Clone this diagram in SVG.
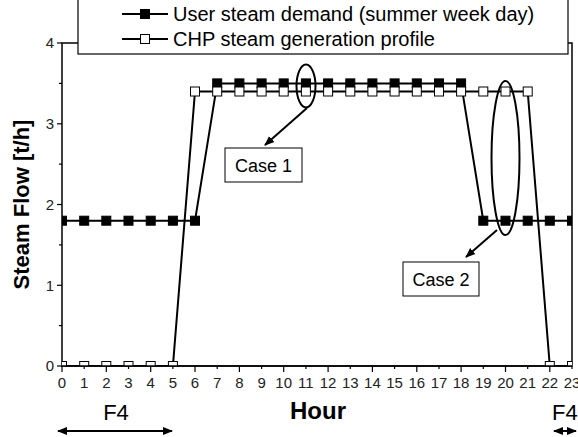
<svg xmlns="http://www.w3.org/2000/svg" xmlns:xlink="http://www.w3.org/1999/xlink" width="578" height="437" viewBox="0 0 578 437">
<style>
.ax{stroke:#000;stroke-width:1.5;fill:none}
.tk{stroke:#000;stroke-width:1.2}
.ser{stroke:#000;stroke-width:2;fill:none}
.lbl{font-family:"Liberation Sans",Arial,sans-serif;font-size:15px;fill:#222}
.big{font-family:"Liberation Sans",Arial,sans-serif;font-size:22px;font-weight:bold;fill:#000}
.hour{font-family:"Liberation Sans",Arial,sans-serif;font-size:24px;font-weight:bold;fill:#000}
.leg{font-family:"Liberation Sans",Arial,sans-serif;font-size:20px;fill:#000}
.f4{font-family:"Liberation Sans",Arial,sans-serif;font-size:22px;fill:#000}
.case{font-family:"Liberation Sans",Arial,sans-serif;font-size:18px;fill:#000}
.box{fill:#fff;stroke:#000;stroke-width:1}
.ell{fill:none;stroke:#000;stroke-width:2}
.arr{stroke:#000;stroke-width:2;fill:none}
</style>
<defs>
<rect id="fs" x="-4.5" y="-4.5" width="9" height="9" fill="#000" stroke="#000" stroke-width="1"/>
<rect id="os" x="-4.5" y="-4.5" width="9" height="9" fill="#fff" stroke="#000" stroke-width="1"/>
<clipPath id="plot"><rect x="62" y="43" width="510" height="323"/></clipPath>
<marker id="ah" viewBox="0 0 10 10" refX="9" refY="5" markerWidth="5" markerHeight="5" orient="auto-start-reverse" markerUnits="strokeWidth">
<path d="M0,1 L10,5 L0,9 Z" fill="#000"/>
</marker>
</defs>
<rect width="578" height="437" fill="#fff"/>

<g id="axes">
<rect class="ax" x="62" y="43" width="510" height="323"/>
<g class="tk">
<line x1="57" y1="366" x2="62" y2="366"/>
<line x1="57" y1="285.3" x2="62" y2="285.3"/>
<line x1="57" y1="204.5" x2="62" y2="204.5"/>
<line x1="57" y1="123.8" x2="62" y2="123.8"/>
<line x1="57" y1="43" x2="62" y2="43"/>
<line x1="59" y1="325.6" x2="62" y2="325.6"/>
<line x1="59" y1="244.9" x2="62" y2="244.9"/>
<line x1="59" y1="164.1" x2="62" y2="164.1"/>
<line x1="59" y1="83.4" x2="62" y2="83.4"/>
</g>
<g class="tk">
<line x1="62" y1="366" x2="62" y2="372"/>
<line x1="84.2" y1="366" x2="84.2" y2="369"/>
<line x1="106.3" y1="366" x2="106.3" y2="372"/>
<line x1="128.5" y1="366" x2="128.5" y2="369"/>
<line x1="150.7" y1="366" x2="150.7" y2="372"/>
<line x1="172.9" y1="366" x2="172.9" y2="369"/>
<line x1="195" y1="366" x2="195" y2="372"/>
<line x1="217.2" y1="366" x2="217.2" y2="369"/>
<line x1="239.4" y1="366" x2="239.4" y2="372"/>
<line x1="261.6" y1="366" x2="261.6" y2="369"/>
<line x1="283.7" y1="366" x2="283.7" y2="372"/>
<line x1="305.9" y1="366" x2="305.9" y2="369"/>
<line x1="328.1" y1="366" x2="328.1" y2="372"/>
<line x1="350.3" y1="366" x2="350.3" y2="369"/>
<line x1="372.4" y1="366" x2="372.4" y2="372"/>
<line x1="394.6" y1="366" x2="394.6" y2="369"/>
<line x1="416.8" y1="366" x2="416.8" y2="372"/>
<line x1="439" y1="366" x2="439" y2="369"/>
<line x1="461.1" y1="366" x2="461.1" y2="372"/>
<line x1="483.3" y1="366" x2="483.3" y2="369"/>
<line x1="505.5" y1="366" x2="505.5" y2="372"/>
<line x1="527.7" y1="366" x2="527.7" y2="369"/>
<line x1="549.8" y1="366" x2="549.8" y2="372"/>
<line x1="572" y1="366" x2="572" y2="369"/>
</g>
<g class="lbl" text-anchor="end">
<text x="54" y="371">0</text>
<text x="54" y="290.5">1</text>
<text x="54" y="209.7">2</text>
<text x="54" y="129">3</text>
<text x="54" y="48.2">4</text>
</g>
<g class="lbl" text-anchor="middle">
<text x="62" y="388">0</text><text x="84.2" y="388">1</text><text x="106.3" y="388">2</text><text x="128.5" y="388">3</text>
<text x="150.7" y="388">4</text><text x="172.9" y="388">5</text><text x="195" y="388">6</text><text x="217.2" y="388">7</text>
<text x="239.4" y="388">8</text><text x="261.6" y="388">9</text><text x="283.7" y="388">10</text><text x="305.9" y="388">11</text>
<text x="328.1" y="388">12</text><text x="350.3" y="388">13</text><text x="372.4" y="388">14</text><text x="394.6" y="388">15</text>
<text x="416.8" y="388">16</text><text x="439" y="388">17</text><text x="461.1" y="388">18</text><text x="483.3" y="388">19</text>
<text x="505.5" y="388">20</text><text x="527.7" y="388">21</text><text x="549.8" y="388">22</text><text x="572" y="388">23</text>
</g>
<text class="hour" x="318" y="419" text-anchor="middle">Hour</text>
<text class="big" transform="translate(29,204.5) rotate(-90)" text-anchor="middle">Steam Flow [t/h]</text>
</g>

<g id="series" clip-path="url(#plot)">
<g id="user-demand">
<polyline class="ser" points="62,220.7 84.2,220.7 106.3,220.7 128.5,220.7 150.7,220.7 172.9,220.7 195,220.7 217.2,83.4 239.4,83.4 261.6,83.4 283.7,83.4 305.9,83.4 328.1,83.4 350.3,83.4 372.4,83.4 394.6,83.4 416.8,83.4 439,83.4 461.1,83.4 483.3,220.7 505.5,220.7 527.7,220.7 549.8,220.7 572,220.7"/>
<use xlink:href="#fs" x="62" y="220.7"/><use xlink:href="#fs" x="84.2" y="220.7"/><use xlink:href="#fs" x="106.3" y="220.7"/><use xlink:href="#fs" x="128.5" y="220.7"/>
<use xlink:href="#fs" x="150.7" y="220.7"/><use xlink:href="#fs" x="172.9" y="220.7"/><use xlink:href="#fs" x="195" y="220.7"/>
<use xlink:href="#fs" x="217.2" y="83.4"/><use xlink:href="#fs" x="239.4" y="83.4"/><use xlink:href="#fs" x="261.6" y="83.4"/><use xlink:href="#fs" x="283.7" y="83.4"/>
<use xlink:href="#fs" x="305.9" y="83.4"/><use xlink:href="#fs" x="328.1" y="83.4"/><use xlink:href="#fs" x="350.3" y="83.4"/><use xlink:href="#fs" x="372.4" y="83.4"/>
<use xlink:href="#fs" x="394.6" y="83.4"/><use xlink:href="#fs" x="416.8" y="83.4"/><use xlink:href="#fs" x="439" y="83.4"/><use xlink:href="#fs" x="461.1" y="83.4"/>
<use xlink:href="#fs" x="483.3" y="220.7"/><use xlink:href="#fs" x="505.5" y="220.7"/><use xlink:href="#fs" x="527.7" y="220.7"/><use xlink:href="#fs" x="549.8" y="220.7"/><use xlink:href="#fs" x="572" y="220.7"/>
</g>
<g id="chp-generation">
<polyline class="ser" points="62,366 84.2,366 106.3,366 128.5,366 150.7,366 172.9,366 195,91.5 217.2,91.5 239.4,91.5 261.6,91.5 283.7,91.5 305.9,91.5 328.1,91.5 350.3,91.5 372.4,91.5 394.6,91.5 416.8,91.5 439,91.5 461.1,91.5 483.3,91.5 505.5,91.5 527.7,91.5 549.8,366 572,366"/>
<use xlink:href="#os" x="62" y="366"/><use xlink:href="#os" x="84.2" y="366"/><use xlink:href="#os" x="106.3" y="366"/><use xlink:href="#os" x="128.5" y="366"/>
<use xlink:href="#os" x="150.7" y="366"/><use xlink:href="#os" x="172.9" y="366"/><use xlink:href="#os" x="195" y="91.5"/>
<use xlink:href="#os" x="217.2" y="91.5"/><use xlink:href="#os" x="239.4" y="91.5"/><use xlink:href="#os" x="261.6" y="91.5"/><use xlink:href="#os" x="283.7" y="91.5"/>
<use xlink:href="#os" x="305.9" y="91.5"/><use xlink:href="#os" x="328.1" y="91.5"/><use xlink:href="#os" x="350.3" y="91.5"/><use xlink:href="#os" x="372.4" y="91.5"/>
<use xlink:href="#os" x="394.6" y="91.5"/><use xlink:href="#os" x="416.8" y="91.5"/><use xlink:href="#os" x="439" y="91.5"/><use xlink:href="#os" x="461.1" y="91.5"/>
<use xlink:href="#os" x="483.3" y="91.5"/><use xlink:href="#os" x="505.5" y="91.5"/><use xlink:href="#os" x="527.7" y="91.5"/><use xlink:href="#os" x="549.8" y="366"/><use xlink:href="#os" x="572" y="366"/>
</g>
</g>
<line class="ax" x1="62" y1="366" x2="572" y2="366"/>

<g id="legend">
<rect x="78" y="-2" width="490" height="56" fill="#fff" stroke="#000" stroke-width="1.2"/>
<line class="ser" x1="122" y1="14" x2="168" y2="14"/>
<use xlink:href="#fs" x="145" y="14"/>
<text class="leg" x="173" y="21">User steam demand (summer week day)</text>
<line class="ser" x1="122" y1="39" x2="168" y2="39"/>
<use xlink:href="#os" x="145" y="39"/>
<text class="leg" x="173" y="46">CHP steam generation profile</text>
</g>

<g id="case1">
<ellipse class="ell" cx="306" cy="86" rx="9.5" ry="21.5"/>
<rect class="box" x="225" y="148" width="77" height="34"/>
<text class="case" x="263.5" y="171.5" text-anchor="middle">Case 1</text>
</g>
<g id="case2">
<ellipse class="ell" cx="505.5" cy="158" rx="14" ry="77"/>
<rect class="box" x="403" y="262" width="76" height="34"/>
<text class="case" x="441" y="285.5" text-anchor="middle">Case 2</text>
</g>

<g id="connectors">
<line class="arr" x1="307" y1="108" x2="265" y2="145" marker-end="url(#ah)"/>
<line class="arr" x1="497" y1="230" x2="466" y2="257" marker-end="url(#ah)"/>
<line class="arr" x1="58" y1="431" x2="172" y2="431" marker-start="url(#ah)" marker-end="url(#ah)"/>
<line class="arr" x1="554" y1="431" x2="576" y2="431" marker-start="url(#ah)" marker-end="url(#ah)"/>
</g>
<text class="f4" x="116" y="420" text-anchor="middle">F4</text>
<text class="f4" x="552" y="420">F4</text>
</svg>
